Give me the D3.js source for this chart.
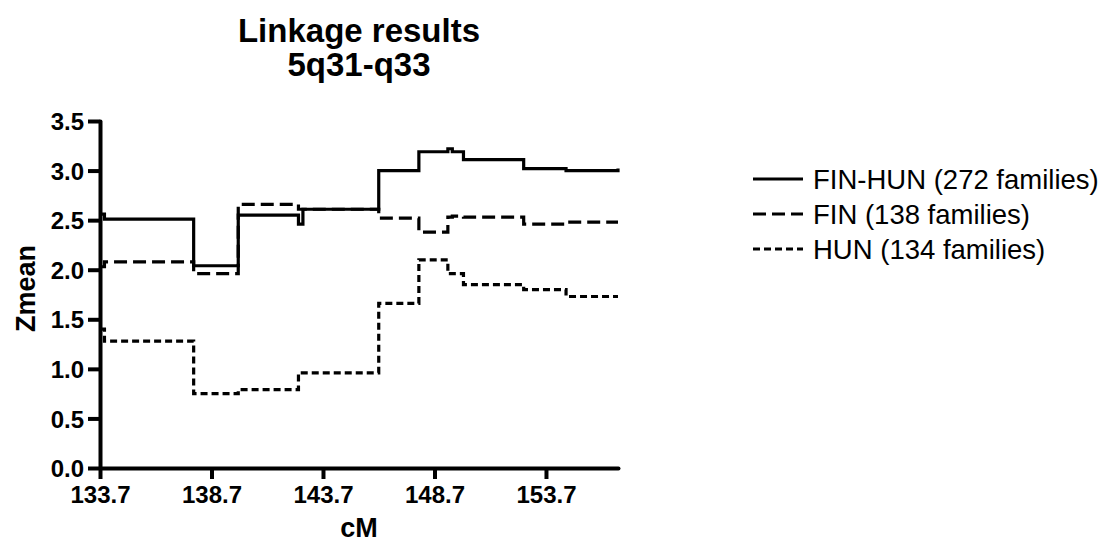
<!DOCTYPE html>
<html>
<head>
<meta charset="utf-8">
<script src="https://cdn.jsdelivr.net/npm/d3@7"></script>
<style>
  body { margin: 0; background: #fff; }
  svg { display: block; font-family: "Liberation Sans", Arial, sans-serif; }
</style>
</head>
<body>
<div class="chart"></div>
<script>
// Marker positions (cM) where the step values change
const markers = [133.7, 133.9, 137.9, 139.9, 142.6, 142.8, 146.2, 148.0, 149.3, 149.5, 150.0, 152.7, 154.6, 156.93];

// Zmean per marker, one array per sample
const finHun = [2.56, 2.51, 2.04, 2.55, 2.46, 2.61, 3.00, 3.19, 3.22, 3.19, 3.11, 3.02, 3.00, 3.02];
const fin    = [2.03, 2.08, 1.96, 2.66, 2.61, 2.61, 2.52, 2.38, 2.53, 2.54, 2.53, 2.46, 2.48, 2.48];
const hun    = [1.40, 1.28, 0.75, 0.79, 0.96, 0.96, 1.66, 2.10, 1.96, 1.96, 1.85, 1.80, 1.73, 1.73];

const seriesNames = ['FIN-HUN (272 families)', 'FIN (138 families)', 'HUN (134 families)'];
const xTicks = [133.7, 138.7, 143.7, 148.7, 153.7];
const yTicks = [0, 0.5, 1, 1.5, 2, 2.5, 3, 3.5];

// margin convention
const margin = { top: 121, right: 491, bottom: 79, left: 100 };
const outerWidth = 1109;
const outerHeight = 547;
const innerWidth = outerWidth - margin.left - margin.right;
const innerHeight = outerHeight - margin.top - margin.bottom;

const svg = d3.select('.chart')
  .append('svg')
    .attr('width', outerWidth)
    .attr('height', outerHeight);

const chartG = svg.append('g')
  .attr('transform', `translate(${margin.left},${margin.top})`);

const x = d3.scaleLinear()
  .domain([133.7, 156.93])
  .range([0, innerWidth]);

const y = d3.scaleLinear()
  .domain([0, 3.5])
  .range([innerHeight, 0]);

// axes
const xAxis = chartG.append('g')
  .attr('transform', `translate(0,${innerHeight})`)
  .call(d3.axisBottom(x).tickValues(xTicks).tickFormat(d3.format('.1f')).tickSize(11).tickSizeOuter(0).tickPadding(7));

const yAxis = chartG.append('g')
  .call(d3.axisLeft(y).tickValues(yTicks).tickFormat(d3.format('.1f')).tickSize(12).tickSizeOuter(0).tickPadding(4));

[xAxis, yAxis].forEach(a => {
  a.attr('font-size', 24)
    .attr('font-weight', 'bold')
    .attr('font-family', '"Liberation Sans", Arial, sans-serif');
  a.select('.domain').attr('stroke-width', 4).attr('stroke-linecap', 'round');
  a.selectAll('.tick line').attr('stroke-width', 4);
  a.selectAll('.tick text').attr('fill', '#000');
});
yAxis.selectAll('.tick text').attr('dy', '0.36em');

// step lines
const data = [finHun, fin, hun];
const dashes = [null, '13,6', '7,4'];

const line = d3.line()
  .x((d, i) => x(markers[i]))
  .y(d => y(d))
  .curve(d3.curveStepAfter);

chartG.selectAll('.series')
  .data(data)
  .enter().append('path')
    .attr('class', 'series')
    .attr('d', line)
    .attr('fill', 'none')
    .attr('stroke', '#000')
    .attr('stroke-width', 3.2)
    .attr('stroke-dasharray', (d, i) => dashes[i]);

// titles
svg.append('text')
  .attr('x', margin.left + innerWidth / 2)
  .attr('y', 42)
  .attr('text-anchor', 'middle')
  .attr('font-size', 33)
  .attr('font-weight', 'bold')
  .text('Linkage results');

svg.append('text')
  .attr('x', margin.left + innerWidth / 2)
  .attr('y', 76)
  .attr('text-anchor', 'middle')
  .attr('font-size', 33)
  .attr('font-weight', 'bold')
  .text('5q31-q33');

svg.append('text')
  .attr('x', margin.left + innerWidth / 2)
  .attr('y', 537)
  .attr('text-anchor', 'middle')
  .attr('font-size', 27)
  .attr('font-weight', 'bold')
  .text('cM');

svg.append('text')
  .attr('transform', `translate(35,${margin.top + innerHeight / 2 - 6}) rotate(-90)`)
  .attr('text-anchor', 'middle')
  .attr('font-size', 27)
  .attr('font-weight', 'bold')
  .text('Zmean');

// legend
const legend = svg.append('g')
  .attr('transform', 'translate(753,179)');

const legendRow = legend.selectAll('.legend-row')
  .data(seriesNames)
  .enter().append('g')
    .attr('class', 'legend-row')
    .attr('transform', (d, i) => `translate(0,${i * 35})`);

legendRow.append('line')
  .attr('x1', 0)
  .attr('x2', 50)
  .attr('stroke', '#000')
  .attr('stroke-width', 3)
  .attr('stroke-dasharray', (d, i) => dashes[i]);

legendRow.append('text')
  .attr('x', 60)
  .attr('dy', '0.36em')
  .attr('font-size', 27.5)
  .text(d => d);
</script>
</body>
</html>
